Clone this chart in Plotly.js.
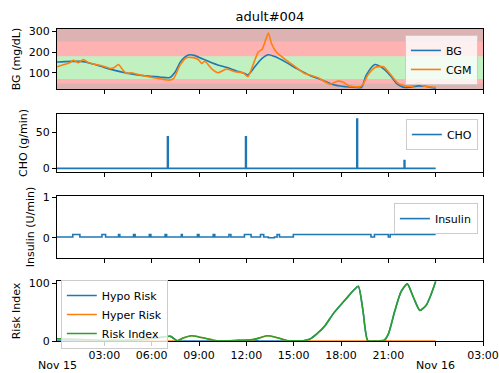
<!DOCTYPE html>
<html>
<head>
<meta charset="utf-8">
<script src="https://cdn.plot.ly/plotly-3.0.1.min.js"></script>
<style>html,body{margin:0;padding:0;background:#fff;}#chart{width:499px;height:373px;}</style>
</head>
<body>
<div id="chart"></div>
<script>
// ---- data (hours after Nov 15 00:00) ----
const bgHours = [0,0.5,1.0,1.5,1.8,2.3,3.0,3.6,4.3,5.0,5.8,6.5,7.15,7.5,7.8,8.1,8.4,8.7,9.2,9.7,10.3,10.96,11.5,11.9,12.1,12.4,12.65,13.0,13.4,13.8,14.55,15.2,15.7,16.0,16.8,17.6,18.3,19.0,19.3,19.6,20.15,20.5,20.8,21.2,21.5,21.8,22.05,22.5,22.9,23.3,23.7,24.0];
const bgValues = [152,154,155,155,152,142,126,113,100,91,84,80,77,105,150,176,187,184,168,152,135,121,106,97,90,115,140,170,187,178,149,120,100,88,65,41,33,29,30,89,140,130,113,80,50,35,29,32,37,35,30,26];

const cgmHours = [0,0.5,0.8,1.03,1.35,1.67,2.0,2.4,2.7,3.04,3.36,3.6,3.9,4.1,4.4,4.7,5.15,5.8,6.2,6.6,7.16,7.4,7.8,8.2,8.64,8.95,9.17,9.38,9.6,9.9,10.2,10.75,11.3,11.8,12.1,12.3,12.76,13.0,13.25,13.4,13.6,13.9,14.55,15.2,15.7,16.0,16.55,17.3,17.8,18.15,18.5,19.2,19.4,19.7,20.15,20.7,21.0,21.6,22.05,22.6,22.9,23.2,24.0];
const cgmValues = [129,141,148,160,149,164,149,141,136,129,121,124,140,121,97,100,92,81,75,70,65,73,137,173,173,164,145,156,137,113,100,118,105,100,81,113,200,213,264,292,240,200,160,124,97,89,76,45,60,54,37,33,45,89,126,129,105,50,37,37,54,37,30];

const choHours = [7.0,11.95,19.0,22.0];
const choValues = [44,44,69,11];

const insHours = [0,1.0,1.45,2.85,3.08,3.9,3.98,4.85,4.95,5.85,5.95,6.85,6.95,7.88,7.94,8.9,9.0,9.9,10.0,10.9,11.02,11.88,12.3,12.9,13.1,13.4,13.78,13.95,14.1,14.98,19.9,20.12,21.0,21.12,24.0];
const insValues = [0.02,0.08,0.02,0.08,0.02,0.08,0.02,0.08,0.02,0.08,0.02,0.08,0.02,0.08,0.02,0.08,0.02,0.08,0.02,0.08,0.02,0.08,0.02,0.08,0.02,0.0,0.02,0.08,0.02,0.08,0.02,0.08,0.02,0.08,0.08];

const riskHours = [0,1,2,2.7,3.5,4.5,5.5,6.5,7.2,7.6,8.0,8.5,9.0,9.5,10.0,10.5,11.5,12.2,12.8,13.3,13.8,14.55,15.6,16.0,16.45,17.0,17.5,18.35,18.8,19.1,19.4,19.7,20.2,20.7,21.0,21.4,21.8,22.2,22.6,23.0,23.4,23.7,24];
const riskValues  = [4,3,2,1,1,1,3,6,8,0.5,5,9,7,4,1,0.5,1,1.5,5,9,7,1,0.5,3,12,27,47,74,88,95,51,0.5,0,1,12,51,85,99,75,53,62,80,103];
const hypoValues  = [0,0,0,0,1,1,3,6,8,0.5,0,0,0,0,0,0,1,1.5,0,0,0,0,0.5,3,12,27,47,74,88,95,51,0.5,0,0,12,51,85,99,75,53,62,80,103];
const hyperValues = [4,3,2,1,0,0,0,0,0,0,5,9,7,4,1,0.5,0,0,5,9,7,1,0,0,0,0,0,0,0,0,0,0,0,1,0,0,0,0,0,0,0,0,0];

const tickHours = [3,6,9,12,15,18,21,24,27];
const tickLabels = ['03:00','06:00','09:00','12:00','15:00','18:00','21:00','','03:00'];
const dayLabels = [{h:0, text:'Nov 15'},{h:24, text:'Nov 16'}];

// ---- helpers ----
const base = Date.UTC(2018,10,15);
function toDate(h){ return new Date(base + Math.round(h*3600000)).toISOString().replace('T',' ').slice(0,19); }
const X = a => a.map(toDate);

// CHO spike trace built from meal data
const choX = [0], choY = [0];
choHours.forEach((h,i)=>{ choX.push(h,h,h+0.05,h+0.05); choY.push(0,choValues[i],choValues[i],0); });
choX.push(24); choY.push(0);

const C1='#1f77b4', C2='#ff7f0e', C3='#2ca02c';
const LW=1.6;
const traces = [
  {x:X(bgHours), y:bgValues, name:'BG', type:'scatter', mode:'lines', line:{color:C1,width:LW,shape:'spline',smoothing:0.8}, xaxis:'x', yaxis:'y', legend:'legend'},
  {x:X(cgmHours), y:cgmValues, name:'CGM', type:'scatter', mode:'lines', line:{color:C2,width:LW,shape:'spline',smoothing:0.6}, xaxis:'x', yaxis:'y', legend:'legend'},
  {x:X(choX), y:choY, name:'CHO', type:'scatter', mode:'lines', line:{color:C1,width:LW}, xaxis:'x2', yaxis:'y2', legend:'legend2'},
  {x:X(insHours), y:insValues, name:'Insulin', type:'scatter', mode:'lines', line:{color:C1,width:LW,shape:'hv'}, xaxis:'x3', yaxis:'y3', legend:'legend3'},
  {x:X(riskHours), y:hypoValues, name:'Hypo Risk', type:'scatter', mode:'lines', line:{color:C1,width:LW,shape:'spline',smoothing:0.6}, xaxis:'x4', yaxis:'y4', legend:'legend4'},
  {x:X(riskHours), y:hyperValues, name:'Hyper Risk', type:'scatter', mode:'lines', line:{color:C2,width:LW,shape:'spline',smoothing:0.6}, xaxis:'x4', yaxis:'y4', legend:'legend4'},
  {x:X(riskHours), y:riskValues, name:'Risk Index', type:'scatter', mode:'lines', line:{color:C3,width:LW,shape:'spline',smoothing:0.6}, xaxis:'x4', yaxis:'y4', legend:'legend4'}
];

const FONT = {family:'DejaVu Sans, sans-serif', size:11, color:'#000'};
const xr = [toDate(0), toDate(27)];
function xax(anchor, labels){
  return {range:xr, type:'date', anchor:anchor, showgrid:false, zeroline:false, showline:true, mirror:true, linecolor:'#000', linewidth:1,
    ticks:'outside', ticklen:4, tickcolor:'#000', tickvals:X(tickHours), ticktext:tickLabels, showticklabels:labels, tickfont:FONT};
}
function yax(anchor, dom, range, tv, title){
  return {domain:dom, range:range, anchor:anchor, showgrid:false, zeroline:false, showline:true, mirror:true, linecolor:'#000', linewidth:1,
    ticks:'outside', ticklen:4, tickcolor:'#000', tickvals:tv, tickfont:FONT, title:{text:title, font:FONT, standoff:5}};
}
const bgRange=[22,311];
const bands = [[0,50,'rgba(139,0,0,0.3)'],[50,70,'rgba(255,0,0,0.3)'],[70,180,'rgba(50,205,50,0.3)'],[180,250,'rgba(255,0,0,0.3)'],[250,bgRange[1],'rgba(139,0,0,0.3)']];
const shapes = bands.map(b=>({type:'rect', xref:'x domain', yref:'y', x0:0, x1:1, y0:Math.max(b[0],bgRange[0]), y1:b[1], fillcolor:b[2], line:{width:0}, layer:'below'}));

const legStyle = {bgcolor:'rgba(255,255,255,0.8)', bordercolor:'#cccccc', borderwidth:1, font:FONT, xanchor:'right', yanchor:'top', tracegroupgap:0, itemwidth:30};
const layout = {
  width:499, height:373, margin:{l:57, r:16, t:29, b:32}, paper_bgcolor:'#fff', plot_bgcolor:'#fff', font:FONT,
  title:{text:'adult#004', font:{family:FONT.family, size:13, color:'#000'}, x:0.541, xanchor:'center', y:0.955, yanchor:'middle'},
  xaxis: xax('y', false), xaxis2: Object.assign(xax('y2', false),{matches:'x'}), xaxis3: Object.assign(xax('y3', false),{matches:'x'}), xaxis4: Object.assign(xax('y4', true),{matches:'x'}),
  yaxis: yax('x', [0.8077,1], bgRange, [100,200,300], 'BG (mg/dL)'),
  yaxis2: yax('x2', [0.5417,0.7276], [-5,76], [0,50], 'CHO (g/min)'),
  yaxis3: yax('x3', [0.266,0.4647], [-0.5,1.03], [0,1], 'Insulin (U/min)'),
  yaxis4: yax('x4', [0,0.1923], [0,104], [0,100], 'Risk Index'),
  shapes: shapes,
  legend: Object.assign({}, legStyle, {x:0.988, y:0.981}),
  legend2: Object.assign({}, legStyle, {x:0.988, y:0.7115}),
  legend3: Object.assign({}, legStyle, {x:0.988, y:0.442}),
  legend4: Object.assign({}, legStyle, {x:0.009, y:0.1955, xanchor:'left'}),
  annotations: dayLabels.map(d=>({x:toDate(d.h), xref:'x4', y:0, yref:'paper', yshift:-24, text:d.text, showarrow:false, font:FONT, xanchor:'center', yanchor:'middle'})),
  showlegend:true
};
Plotly.newPlot('chart', traces, layout, {displayModeBar:false, staticPlot:true});
</script>
</body>
</html>
